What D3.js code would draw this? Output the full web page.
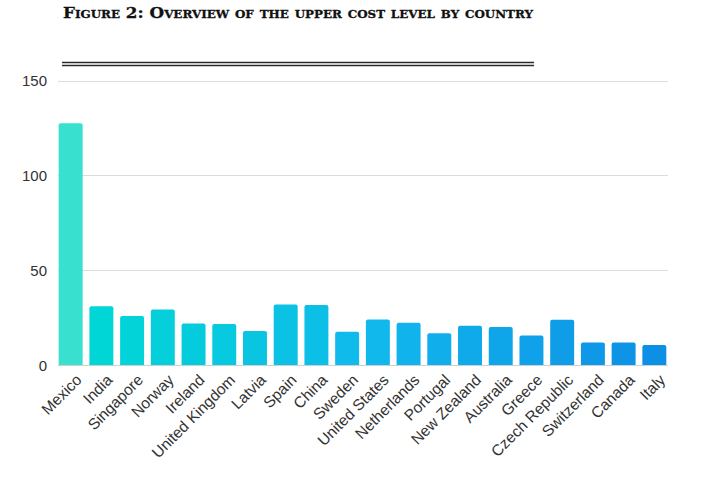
<!DOCTYPE html>
<html><head><meta charset="utf-8">
<script src="https://cdn.jsdelivr.net/npm/d3@7"></script>
<style>
html,body{margin:0;padding:0;background:#fff;}
svg{display:block;}
</style></head>
<body>
<svg id="chart" width="720" height="480"></svg>
<script>
const countries = ["Mexico","India","Singapore","Norway","Ireland","United Kingdom","Latvia","Spain","China","Sweden","United States","Netherlands","Portugal","New Zealand","Australia","Greece","Czech Republic","Switzerland","Canada","Italy"];
const values = [127.5,31,25.8,29.3,21.9,21.6,17.9,31.9,31.7,17.5,24,22.3,16.8,20.7,20,15.6,23.8,11.9,11.9,10.5];
const yTicks = [0,50,100,150];
const titleText = "Figure 2: Overview of the upper cost level by country";

const svg = d3.select("#chart");
const x = d3.scaleBand().domain(countries).range([55.3, 669.7]).paddingInner(0.22).paddingOuter(0.11);
const y = d3.scaleLinear().domain([0,150]).range([365, 80.5]);
const color = d3.scaleLinear().domain([0,1,10,19]).range(["#38e0d0","#00d6d6","#10b8ec","#0e8fe6"]);

// title
svg.append("text").attr("x",63).attr("y",17.5)
  .attr("font-family","'DejaVu Serif', 'Liberation Serif', serif")
  .attr("font-weight","bold").attr("font-size",15.5)
  .style("font-variant","small-caps").attr("fill","#111")
  .attr("stroke","#111").attr("stroke-width",0.3)
  .attr("textLength",470).attr("lengthAdjust","spacingAndGlyphs")
  .text(titleText);

// double line
[62.5,65.5].forEach(yy=>{
  svg.append("line").attr("x1",62).attr("x2",534).attr("y1",yy).attr("y2",yy)
    .attr("stroke","#2a2a2a").attr("stroke-width",1.3);
});

// gridlines
const grid = svg.append("g");
grid.selectAll("line").data(yTicks).join("line")
  .attr("x1",58).attr("x2",668)
  .attr("y1",d=>Math.round(y(d))+0.5).attr("y2",d=>Math.round(y(d))+0.5)
  .attr("stroke",d=>d===0?"#cfcfcf":"#dcdcdc").attr("stroke-width",1);

// y axis labels
const yAxis = d3.axisLeft(y).tickValues(yTicks).tickSize(0).tickPadding(0);
const ya = svg.append("g").attr("transform","translate(47,0)").call(yAxis);
ya.select(".domain").remove();
ya.selectAll("text").attr("font-family","'Liberation Sans', Arial, sans-serif")
  .attr("font-size",15).attr("fill","#333").attr("dy","0.35em");

// bars
svg.append("g").selectAll("path").data(countries).join("path")
  .attr("d",(d,i)=>{
    const x0=x(d), w=x.bandwidth(), y0=y(values[i]), y1=y(0), r=2;
    return `M${x0},${y1}V${y0+r}Q${x0},${y0} ${x0+r},${y0}H${x0+w-r}Q${x0+w},${y0} ${x0+w},${y0+r}V${y1}Z`;
  })
  .attr("fill",(d,i)=>color(i));

// x axis labels
const xa = svg.append("g");
xa.selectAll("text").data(countries).join("text")
  .attr("transform",d=>`translate(${x(d)+x.bandwidth()/2+12},${381}) rotate(-45)`)
  .attr("text-anchor","end")
  .attr("font-family","'Liberation Sans', Arial, sans-serif")
  .attr("font-size",15.5).attr("fill","#333")
  .text(d=>d);
</script>
</body></html>
